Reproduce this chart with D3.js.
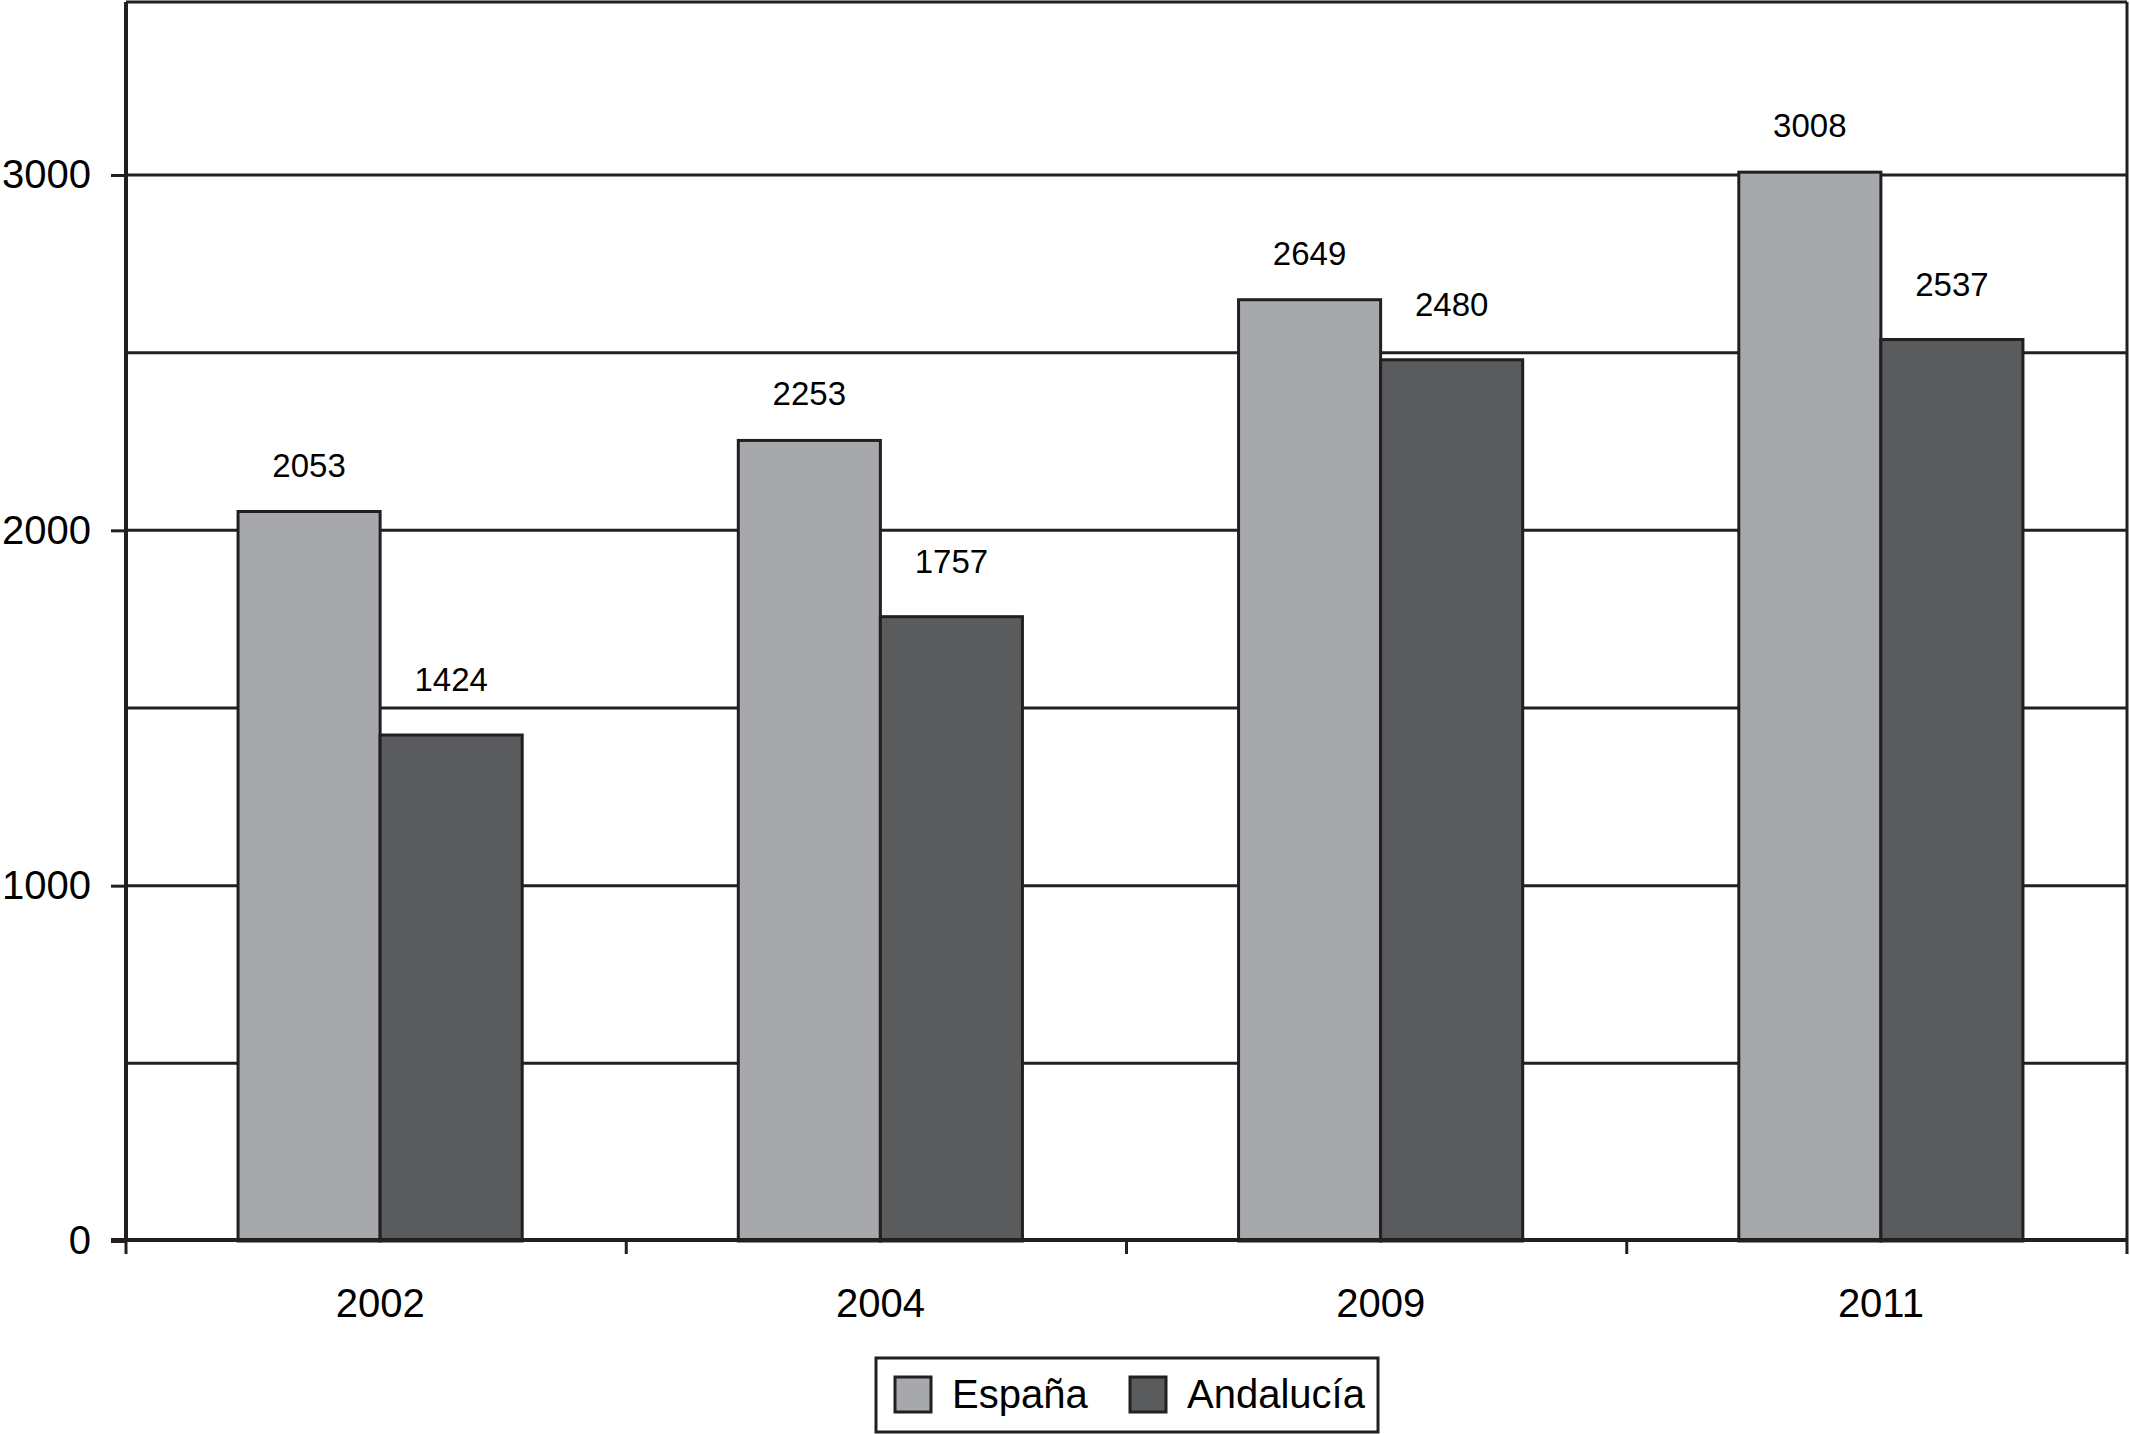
<!DOCTYPE html>
<html>
<head>
<meta charset="utf-8">
<script src="https://cdn.jsdelivr.net/npm/d3@7"></script>
<style>
  html, body { margin: 0; padding: 0; background: #fff; }
  svg { display: block; font-family: "Liberation Sans", Arial, Helvetica, sans-serif; }
</style>
</head>
<body>
<svg id="chart" width="2130" height="1434"></svg>
<script>
const years = ["2002", "2004", "2009", "2011"];
const seriesNames = ["España", "Andalucía"];
const espana = [2053, 2253, 2649, 3008];
const andalucia = [1424, 1757, 2480, 2537];
const yTickLabels = [0, 1000, 2000, 3000];
const gridValues = [500, 1000, 1500, 2000, 2500, 3000];

(function () {
const colors = { "España": "#a7a8ab", "Andalucía": "#5a5b5d" };
const ink = "#231f20";

const svg = d3.select("#chart");
const pLeft = 126, pRight = 2127, pTop = 2, pBottom = 1240;
const barShift = 4;

const x0 = d3.scaleBand().domain(years).range([pLeft, pRight]).paddingInner(0.432).paddingOuter(0.216);
const xb = d3.scaleBand().domain(years).range([pLeft, pRight]).padding(0);
const x1 = d3.scaleBand().domain(seriesNames).range([0, x0.bandwidth()]);
const y = d3.scaleLinear().domain([0, 3000]).range([pBottom + 1, 175]);

const rows = years.map((yr, i) => ({ year: yr, values: [
  { name: "España", v: espana[i] },
  { name: "Andalucía", v: andalucia[i] }
]}));

// gridlines
svg.append("g").selectAll("line").data(gridValues).join("line")
  .attr("x1", pLeft).attr("x2", pRight)
  .attr("y1", d => y(d)).attr("y2", d => y(d))
  .attr("stroke", ink).attr("stroke-width", 3);

// frame top/right
svg.append("line").attr("x1", pLeft).attr("x2", pRight).attr("y1", pTop).attr("y2", pTop)
  .attr("stroke", ink).attr("stroke-width", 3);
svg.append("line").attr("x1", pRight).attr("x2", pRight).attr("y1", pTop).attr("y2", pBottom)
  .attr("stroke", ink).attr("stroke-width", 3);

// bars
const groups = svg.append("g").selectAll("g").data(rows).join("g")
  .attr("transform", d => `translate(${x0(d.year) + barShift},0)`);
groups.selectAll("rect").data(d => d.values).join("rect")
  .attr("x", d => x1(d.name))
  .attr("y", d => y(d.v))
  .attr("width", x1.bandwidth())
  .attr("height", d => y(0) - y(d.v))
  .attr("fill", d => colors[d.name])
  .attr("stroke", ink).attr("stroke-width", 3);

// value labels
groups.selectAll("text").data(d => d.values).join("text")
  .attr("x", d => x1(d.name) + x1.bandwidth() / 2)
  .attr("y", d => y(d.v) - (d.name === "España" ? 35 : 44))
  .attr("text-anchor", "middle")
  .attr("font-size", 33)
  .attr("fill", "#000")
  .text(d => d.v);

// y axis
const yAxis = d3.axisLeft(y).tickValues(yTickLabels).tickSize(15).tickPadding(20).tickFormat(d3.format("d"));
const gy = svg.append("g").attr("transform", `translate(${pLeft},0)`).call(yAxis);
gy.select(".domain").attr("stroke", ink).attr("stroke-width", 4).attr("d", `M0,${pTop}V${pBottom}`);
gy.selectAll(".tick line").attr("stroke", ink).attr("stroke-width", 3);
gy.selectAll(".tick text").attr("font-size", 40).attr("fill", "#000")
  .attr("font-family", "'Liberation Sans', Arial, sans-serif");

// x axis
const xAxis = d3.axisBottom(x0).tickSize(0).tickPadding(49);
const gx = svg.append("g").attr("transform", `translate(${barShift},${pBottom})`).call(xAxis);
gx.select(".domain").attr("stroke", ink).attr("stroke-width", 4).attr("d", `M${pLeft - 15 - barShift},0H${pRight - barShift}`);
gx.selectAll(".tick text").attr("font-size", 40).attr("fill", "#000")
  .attr("font-family", "'Liberation Sans', Arial, sans-serif");
// boundary ticks between categories
const bx = years.map(yr => xb(yr)).concat([pRight]);
svg.append("g").selectAll("line").data(bx).join("line")
  .attr("x1", d => d).attr("x2", d => d)
  .attr("y1", pBottom).attr("y2", pBottom + 14)
  .attr("stroke", ink).attr("stroke-width", 3);

// legend
const lg = svg.append("g");
lg.append("rect").attr("x", 876).attr("y", 1358).attr("width", 502).attr("height", 74)
  .attr("fill", "#fff").attr("stroke", ink).attr("stroke-width", 3);
const legendPos = [{ name: "España", sx: 895, tx: 952 }, { name: "Andalucía", sx: 1130, tx: 1187 }];
lg.selectAll("rect.sw").data(legendPos).join("rect").attr("class", "sw")
  .attr("x", d => d.sx).attr("y", 1377).attr("width", 36).attr("height", 35)
  .attr("fill", d => colors[d.name]).attr("stroke", ink).attr("stroke-width", 3);
lg.selectAll("text").data(legendPos).join("text")
  .attr("x", d => d.tx).attr("y", 1408)
  .attr("font-size", 40).attr("fill", "#000")
  .text(d => d.name);
})();
</script>
</body>
</html>
